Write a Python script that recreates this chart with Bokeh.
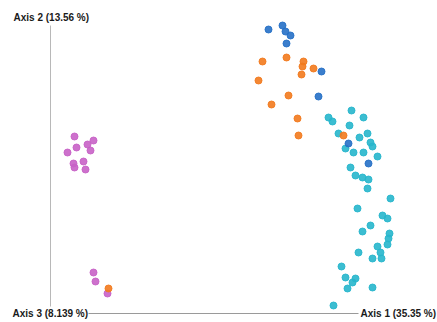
from bokeh.plotting import figure
from bokeh.models import Range1d, ColumnDataSource
from bokeh.core.properties import value
from bokeh.embed import file_html
from bokeh.resources import INLINE

# PCoA scores (Axis 1, Axis 2) per group
blue_x = [0.218, 0.232, 0.235, 0.240, 0.236, 0.271, 0.268, 0.298, 0.318]
blue_y = [0.284, 0.288, 0.282, 0.278, 0.270, 0.242, 0.217, 0.170, 0.150]

orange_x = [0.212, 0.236, 0.253, 0.252, 0.263, 0.251, 0.208, 0.238, 0.221, 0.247, 0.248, 0.293, 0.058]
orange_y = [0.252, 0.256, 0.252, 0.247, 0.245, 0.239, 0.233, 0.218, 0.209, 0.195, 0.178, 0.178, 0.025]

cyan_x = [0.301, 0.313, 0.278, 0.282, 0.299, 0.288, 0.309, 0.317, 0.320, 0.322,
          0.295, 0.303, 0.313, 0.327, 0.300, 0.305, 0.312, 0.318, 0.317, 0.340,
          0.307, 0.332, 0.337, 0.320, 0.312, 0.339, 0.338, 0.337, 0.327, 0.330,
          0.308, 0.322, 0.331, 0.291, 0.295, 0.305, 0.302, 0.297, 0.322, 0.283]
cyan_y = [0.203, 0.196, 0.196, 0.192, 0.188, 0.180, 0.176, 0.180, 0.171, 0.167,
          0.165, 0.161, 0.161, 0.157, 0.146, 0.138, 0.136, 0.134, 0.125, 0.115,
          0.105, 0.098, 0.095, 0.088, 0.082, 0.080, 0.075, 0.069, 0.067, 0.061,
          0.061, 0.055, 0.055, 0.047, 0.036, 0.035, 0.031, 0.025, 0.026, 0.008]

magenta_x = [0.024, 0.043, 0.037, 0.026, 0.017, 0.040, 0.023, 0.033, 0.035, 0.024, 0.043, 0.045, 0.057]
magenta_y = [0.177, 0.173, 0.169, 0.166, 0.161, 0.163, 0.150, 0.152, 0.144, 0.146, 0.041, 0.032, 0.020]

axis_labels = ["Axis 1 (35.35 %)", "Axis 2 (13.56 %)", "Axis 3 (8.139 %)"]

p = figure(width=437, height=322, output_backend="svg", toolbar_location=None,
           x_range=Range1d(-0.050, 0.387), y_range=Range1d(-0.009, 0.313),
           min_border=0, min_border_left=0, min_border_right=0,
           min_border_top=0, min_border_bottom=0)
p.axis.visible = False
p.grid.visible = False
p.outline_line_color = None
p.background_fill_color = "white"
p.border_fill_color = "white"

# axis lines
p.segment(x0=[0.0], y0=[0.007], x1=[0.0], y1=[0.288], line_color="#b8b8b8", line_width=1)
p.segment(x0=[0.038], y0=[0.0], x1=[0.308], y1=[0.0], line_color="#9a9a9a", line_width=1)

groups = [
    (cyan_x, cyan_y, "#27b6cc"),
    (magenta_x, magenta_y, "#c862c6"),
    (blue_x, blue_y, "#2670c6"),
    (orange_x, orange_y, "#f27a1e"),
]
for xs, ys, c in groups:
    src = ColumnDataSource(dict(x=xs, y=ys))
    p.scatter("x", "y", source=src, size=7, fill_color=c, line_color=c,
              fill_alpha=0.9, line_alpha=0.9)

p.text(x=[0.310, -0.037, -0.038], y=[0.0, 0.296, 0.0], text=axis_labels,
       text_font=value("Liberation Sans"), text_font_size="10px",
       text_font_style="bold",
       text_color="#1a1a1a", text_baseline="middle", text_align="left")

open("out.html", "w").write(file_html(p, INLINE))
